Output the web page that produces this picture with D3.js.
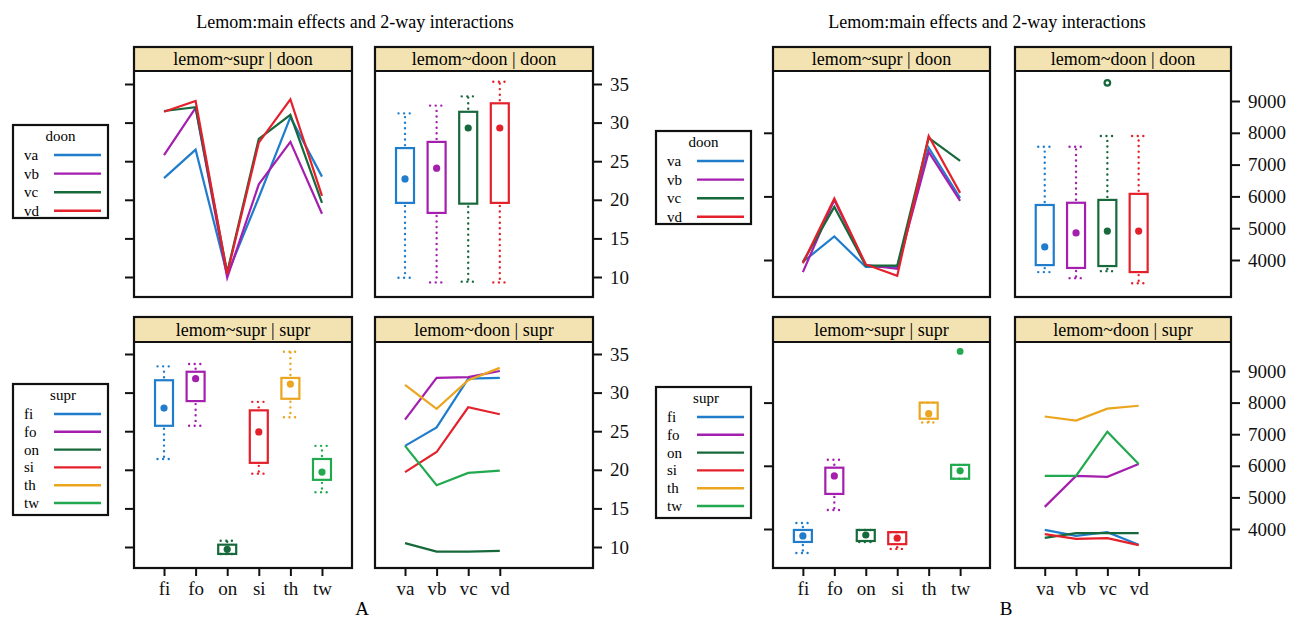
<!DOCTYPE html>
<html>
<head>
<meta charset="utf-8">
<script src="https://cdn.jsdelivr.net/npm/d3@7"></script>
<style>
  body { margin: 0; background: #fff; }
</style>
</head>
<body>
<div id="content"></div>
<script>
// lattice style figure: main effects + 2-way interactions, two responses (A, B)
var serif = '"Liberation Serif", "Times New Roman", "DejaVu Serif", serif';

var supr = ["fi", "fo", "on", "si", "th", "tw"],
    doon = ["va", "vb", "vc", "vd"],
    doonColors = ["#1f7dcc", "#a41fae", "#17693b", "#e4212b"],
    suprColors = ["#1f7dcc", "#a41fae", "#17693b", "#e4212b", "#eba51e", "#22a94f"],

    ticksA = [10, 15, 20, 25, 30, 35],
    ticksB = [4000, 5000, 6000, 7000, 8000, 9000],
    ticksBLeft = [4000, 6000, 8000],

    // A: lemom~supr | doon  (one row per doon level, over supr)
    aSuprDoon = [
        [22.8, 26.5, 10.3, 20.3, 30.7, 23.0],
        [25.8, 31.9, 9.9, 22.0, 27.5, 18.2],
        [31.5, 32.0, 10.6, 27.9, 31.0, 19.6],
        [31.4, 32.8, 10.4, 27.4, 33.0, 20.5]
    ],
    // A: lemom~doon | doon  box stats [low, q1, median, q3, high]
    aDoonBox = [
        [9.9, 19.6, 22.7, 26.7, 31.2],
        [9.3, 18.3, 24.1, 27.5, 32.2],
        [9.4, 19.5, 29.3, 31.4, 33.4],
        [9.3, 19.6, 29.3, 32.5, 35.3]
    ],
    // A: lemom~supr | supr  box stats
    aSuprBox = [
        [21.4, 25.7, 28.0, 31.6, 33.4],
        [25.7, 28.9, 31.8, 32.7, 33.7],
        [9.1, 9.1, 9.7, 10.3, 10.8],
        [19.5, 20.9, 24.9, 27.7, 28.8],
        [26.8, 29.2, 31.1, 31.9, 35.3],
        [17.1, 18.7, 19.7, 21.4, 23.1]
    ],
    // A: lemom~doon | supr  (one row per supr level, over doon)
    aDoonSupr = [
        [23.1, 25.5, 31.8, 31.9],
        [26.5, 31.9, 32.0, 32.8],
        [10.5, 9.4, 9.4, 9.5],
        [19.7, 22.3, 28.1, 27.2],
        [31.0, 27.9, 31.6, 33.2],
        [23.1, 18.0, 19.6, 19.9]
    ],

    // B
    bSuprDoon = [
        [3940, 4740, 3780, 3780, 7530, 5950],
        [3620, 5890, 3840, 3720, 7400, 5860],
        [3940, 5670, 3820, 3820, 7840, 7120],
        [3900, 5930, 3860, 3500, 7900, 6110]
    ],
    bDoonBox = [
        [3620, 3840, 4410, 5730, 7560],
        [3430, 3750, 4850, 5800, 7560],
        [3650, 3810, 4910, 5890, 7900],
        [3270, 3620, 4910, 6080, 7900]
    ],
    bDoonOut = [null, null, 9570, null],
    bSuprBox = [
        [3240, 3590, 3780, 3970, 4190],
        [4600, 5110, 5680, 5940, 6190],
        [3590, 3620, 3810, 3970, 3970],
        [3370, 3520, 3710, 3900, 3900],
        [7370, 7490, 7650, 8000, 8000],
        [5590, 5590, 5840, 6030, 6030]
    ],
    bSuprOut = [null, null, null, null, null, 9620],
    bDoonSupr = [
        [3970, 3780, 3900, 3500],
        [4700, 5680, 5650, 6060],
        [3720, 3870, 3870, 3870],
        [3840, 3690, 3710, 3490],
        [7560, 7430, 7810, 7900],
        [5680, 5680, 7080, 6060]
    ];

var width = 1300, height = 620,
    svg = d3.select('#content').append('svg')
        .attr('width', width)
        .attr('height', height)
        .attr('font-family', serif);

var rows = [
    { top: 47, stripB: 71, bottom: 297 },
    { top: 317, stripB: 342, bottom: 568 }
];

function makePanel(x0, x1, row, label) {
    var g = svg.append('g');
    g.append('rect')
        .attr('x', x0).attr('y', row.top)
        .attr('width', x1 - x0).attr('height', row.stripB - row.top)
        .attr('fill', '#f4e3b2');
    g.append('line')
        .attr('x1', x0).attr('x2', x1)
        .attr('y1', row.stripB).attr('y2', row.stripB)
        .attr('stroke', '#111').attr('stroke-width', 2);
    g.append('text')
        .attr('x', (x0 + x1) / 2).attr('y', row.stripB - 6)
        .attr('text-anchor', 'middle')
        .style('font-size', '18px')
        .text(label);
    var x = d3.scaleLinear().domain([0.05, 6.95]).range([x0, x1]);
    return { g: g, x: x, x0: x0, x1: x1, row: row };
}

function frame(p) {
    p.g.append('rect')
        .attr('x', p.x0).attr('y', p.row.top)
        .attr('width', p.x1 - p.x0).attr('height', p.row.bottom - p.row.top)
        .attr('fill', 'none').attr('stroke', '#111').attr('stroke-width', 2.2);
}

function styleAxis(sel) {
    sel.select('.domain').remove();
    sel.selectAll('.tick line').attr('stroke', '#111').attr('stroke-width', 2);
    sel.selectAll('.tick text')
        .style('font-size', '19px').attr('fill', '#111');
}

function drawLines(p, y, data, colors) {
    var line = d3.line()
        .x(function(d, i) { return p.x(i + 1); })
        .y(function(d) { return y(d); });
    p.g.selectAll(null)
        .data(data)
        .enter()
        .append('path')
        .attr('d', line)
        .attr('fill', 'none')
        .attr('stroke', function(d, i) { return colors[i]; })
        .attr('stroke-width', 2.2)
        .attr('stroke-linejoin', 'miter');
}

function dotted(g, xa, ya, xb, yb, c) {
    g.append('line')
        .attr('x1', xa).attr('y1', ya).attr('x2', xb).attr('y2', yb)
        .attr('stroke', c).attr('stroke-width', 2.4)
        .attr('stroke-linecap', 'round')
        .attr('stroke-dasharray', '0 5.6');
}

function drawBoxes(p, y, stats, colors, outliers) {
    var bw = 18;
    stats.forEach(function(s, i) {
        var cx = p.x(i + 1), c = colors[i];
        // whiskers
        if (y(s[0]) - y(s[1]) > 2) {
            dotted(p.g, cx, y(s[1]) + 3, cx, y(s[0]), c);
        }
        dotted(p.g, cx - 6.5, y(s[0]), cx + 6.5, y(s[0]), c);
        if (y(s[3]) - y(s[4]) > 2) {
            dotted(p.g, cx, y(s[3]) - 3, cx, y(s[4]), c);
        }
        dotted(p.g, cx - 6.5, y(s[4]), cx + 6.5, y(s[4]), c);
        p.g.append('rect')
            .attr('x', cx - bw / 2).attr('y', y(s[3]))
            .attr('width', bw).attr('height', y(s[1]) - y(s[3]))
            .attr('fill', 'none').attr('stroke', c).attr('stroke-width', 2.2);
        p.g.append('circle')
            .attr('cx', cx).attr('cy', y(s[2])).attr('r', 3.6)
            .attr('fill', c);
        if (outliers && outliers[i] != null) {
            p.g.append('circle')
                .attr('cx', cx).attr('cy', y(outliers[i]))
                .attr('r', outliers.open ? 2.8 : 3.4)
                .attr('fill', outliers.open ? 'none' : c)
                .attr('stroke', c).attr('stroke-width', outliers.open ? 2.2 : 0);
        }
    });
}

function legend(x0, y0, w, h, title, labels, colors, step, titleX) {
    var g = svg.append('g');
    g.append('rect')
        .attr('x', x0).attr('y', y0).attr('width', w).attr('height', h)
        .attr('fill', '#fff').attr('stroke', '#111').attr('stroke-width', 2.2);
    g.append('text')
        .attr('x', titleX).attr('y', y0 + 16)
        .attr('text-anchor', 'middle')
        .style('font-size', '15px')
        .text(title);
    labels.forEach(function(l, i) {
        var yy = y0 + 30 + i * step;
        g.append('text')
            .attr('x', x0 + 11).attr('y', yy + 5)
            .style('font-size', '15px')
            .text(l);
        g.append('line')
            .attr('x1', x0 + 41).attr('x2', x0 + 88)
            .attr('y1', yy).attr('y2', yy)
            .attr('stroke', colors[i]).attr('stroke-width', 2.4);
    });
}

function figure(cfg) {
    svg.append('text')
        .attr('x', cfg.titleX).attr('y', 28)
        .attr('text-anchor', 'middle')
        .style('font-size', '18px')
        .text('Lemom:main effects and 2-way interactions');
    svg.append('text')
        .attr('x', cfg.letterX).attr('y', 615)
        .attr('text-anchor', 'middle')
        .style('font-size', '19px')
        .text(cfg.letter);

    var yTop = d3.scaleLinear().domain(cfg.dom).range(cfg.rangeTop),
        yBot = d3.scaleLinear().domain(cfg.dom).range(cfg.rangeBot);

    var tl = makePanel(cfg.lx0, cfg.lx1, rows[0], 'lemom~supr | doon'),
        tr = makePanel(cfg.rx0, cfg.rx1, rows[0], 'lemom~doon | doon'),
        bl = makePanel(cfg.lx0, cfg.lx1, rows[1], 'lemom~supr | supr'),
        br = makePanel(cfg.rx0, cfg.rx1, rows[1], 'lemom~doon | supr');

    drawLines(tl, yTop, cfg.suprDoon, doonColors);
    drawBoxes(tr, yTop, cfg.doonBox, doonColors, cfg.doonOut);
    drawBoxes(bl, yBot, cfg.suprBox, suprColors, cfg.suprOut);
    drawLines(br, yBot, cfg.doonSupr, suprColors);
    [tl, tr, bl, br].forEach(frame);

    // y axes: bare ticks on the left, labelled ticks on the right
    [[tl, yTop], [bl, yBot]].forEach(function(a) {
        svg.append('g')
            .attr('transform', 'translate(' + a[0].x0 + ',0)')
            .call(d3.axisLeft(a[1]).tickValues(cfg.leftTicks).tickSize(9).tickFormat(''))
            .call(styleAxis);
    });
    [[tr, yTop], [br, yBot]].forEach(function(a) {
        svg.append('g')
            .attr('transform', 'translate(' + a[0].x1 + ',0)')
            .call(d3.axisRight(a[1]).tickValues(cfg.rightTicks).tickSize(9).tickPadding(8)
                .tickFormat(d3.format('d')))
            .call(styleAxis);
    });
    // x axes on the bottom row
    svg.append('g')
        .attr('transform', 'translate(0,' + rows[1].bottom + ')')
        .call(d3.axisBottom(bl.x).tickValues(d3.range(1, 7)).tickSize(8).tickPadding(6)
            .tickFormat(function(d) { return supr[d - 1]; }))
        .call(styleAxis);
    svg.append('g')
        .attr('transform', 'translate(0,' + rows[1].bottom + ')')
        .call(d3.axisBottom(br.x).tickValues(d3.range(1, 5)).tickSize(8).tickPadding(6)
            .tickFormat(function(d) { return doon[d - 1]; }))
        .call(styleAxis);

    legend(cfg.legX, cfg.leg1Y, cfg.legW, 93, 'doon', doon, doonColors, 18.6, cfg.legX + cfg.legW / 2);
    legend(cfg.legX, cfg.leg2Y, cfg.legW, 131, 'supr', supr, suprColors, 17.8, cfg.legX + 50);
}

var bOut = bDoonOut.slice(); bOut.open = true;

figure({
    titleX: 355, letter: 'A', letterX: 362,
    lx0: 134, lx1: 352, rx0: 375, rx1: 593,
    dom: [10, 35], rangeTop: [277, 84], rangeBot: [547, 354],
    leftTicks: ticksA, rightTicks: ticksA,
    suprDoon: aSuprDoon, doonBox: aDoonBox, suprBox: aSuprBox, doonSupr: aDoonSupr,
    doonOut: null, suprOut: null,
    legX: 13, legW: 95, leg1Y: 125, leg2Y: 384
});

figure({
    titleX: 987, letter: 'B', letterX: 1006,
    lx0: 773, lx1: 990, rx0: 1015, rx1: 1231,
    dom: [4000, 9000], rangeTop: [260, 101], rangeBot: [529, 371],
    leftTicks: ticksBLeft, rightTicks: ticksB,
    suprDoon: bSuprDoon, doonBox: bDoonBox, suprBox: bSuprBox, doonSupr: bDoonSupr,
    doonOut: bOut, suprOut: bSuprOut,
    legX: 656, legW: 95, leg1Y: 131, leg2Y: 387
});

// axis groups carry their own font-family attribute; force the serif face everywhere
svg.selectAll('text').style('font-family', serif);
</script>
</body>
</html>
